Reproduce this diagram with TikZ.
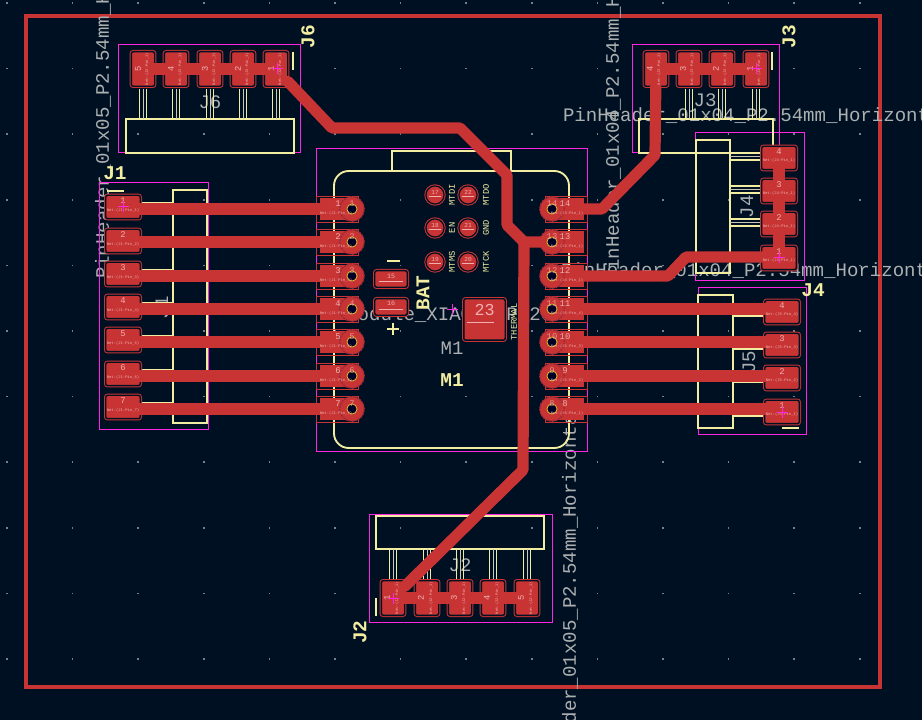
\documentclass[tikz,border=0pt]{standalone}
\usepackage{fontspec}
\setmainfont{Liberation Mono}
\definecolor{boardBg}{RGB}{0,16,35}
\definecolor{copper}{RGB}{200,52,52}
\definecolor{padRing}{RGB}{150,42,56}
\definecolor{silk}{RGB}{242,237,161}
\definecolor{fabGray}{RGB}{172,176,176}
\definecolor{fabThin}{RGB}{200,200,185}
\definecolor{court}{RGB}{255,38,226}
\definecolor{padText}{RGB}{238,176,176}
\definecolor{gridDot}{RGB}{120,128,138}
\definecolor{holeRing}{RGB}{226,190,50}

\begin{document}
\begin{tikzpicture}[%
    x=0.75pt,y=-0.75pt,
    every node/.style={inner sep=0pt,outer sep=0pt},
    bigFab/.style={font=\fontsize{14.3}{15}\selectfont,text=fabGray},
    bigSilk/.style={font=\fontsize{14.6}{15}\selectfont\bfseries,text=silk},
    tinySilk/.style={font=\fontsize{6.6}{7}\selectfont,text=silk},
    padNum/.style={font=\fontsize{6.6}{7}\selectfont,text=padText},
    netName/.style={font=\fontsize{2.9}{3}\selectfont,text=padText},
    smdPad/.style={shape=rectangle,fill=copper,draw=copper,line width=0.75pt,
        double=boardBg,double distance=1.1pt,rounded corners=1.5pt},
    padV/.style={smdPad,minimum width=17.6pt,minimum height=25.9pt},
    padH/.style={smdPad,minimum width=25.9pt,minimum height=17.6pt},
    padSmall/.style={smdPad,minimum width=24.4pt,minimum height=12.4pt},
    padTherm/.style={smdPad,minimum width=31.1pt,minimum height=31.1pt},
    padDot/.style={shape=circle,fill=copper,draw=copper,line width=0.75pt,
        double=boardBg,double distance=0.9pt,minimum size=13.6pt},
    modRect/.style={shape=rectangle,fill=copper,minimum width=24.4pt,minimum height=16.5pt},
    modEdge/.style={draw=copper,line width=0.6pt},
    modRound/.style={shape=circle,fill=copper,draw=padRing,line width=0.9pt,
        dash pattern=on 1.6pt off 0.8pt,minimum size=18.5pt},
    holeDot/.style={shape=circle,fill=black!85!blue,draw=holeRing,line width=0.6pt,minimum size=7.6pt},
    silkLine/.style={draw=silk,line width=1.4pt},
    pinLine/.style={draw=silk,line width=1pt},
    fabLine/.style={draw=fabThin,line width=0.3pt},
    courtLine/.style={draw=court,line width=0.75pt},
    traceLine/.style={draw=copper,line width=8.4pt,line join=round,line cap=round},
    padDash/.style={draw=padText,line width=0.3pt},
    crossLine/.style={draw=court,line width=0.75pt},
]
% fix page and background
\useasboundingbox (0,0) rectangle (922,720);
\clip (0,0) rectangle (922,720);
\fill[boardBg] (0,0) rectangle (922,720);

% draw grid dots
\foreach \i in {0,...,13}{
    \foreach \j in {0,...,10}{
        \fill[gridDot] (7+65.6*\i-0.8,3+65.6*\j-0.8) rectangle +(1.6,1.6);
    }
}

% draw board outline
\draw[copper,line width=2.3pt] (26,16) rectangle (880,687);

% place fab texts
\node[bigFab,rotate=90,anchor=west] (valJ6) at (103,279) {PinHeader\_01x05\_P2.54mm\_Horizontal};
\node[bigFab,rotate=90,anchor=west] (valJ3) at (613,282) {PinHeader\_01x04\_P2.54mm\_Horizontal};
\node[bigFab,rotate=90,anchor=east] (valJ2) at (570,403) {PinHeader\_01x05\_P2.54mm\_Horizontal};
\node[bigFab,anchor=west] (valJ3b) at (563,116) {PinHeader\_01x04\_P2.54mm\_Horizontal};
\node[bigFab,anchor=west] (valJ4) at (561,271) {PinHeader\_01x04\_P2.54mm\_Horizontal};
\node[bigFab] (valM1) at (455,315) {Module\_XIAO-ESP32C3};
\node[bigFab] (refJ6) at (210,102) {J6};
\node[bigFab] (refJ3) at (705,100) {J3};
\node[bigFab] (refJ2) at (460,565) {J2};
\node[bigFab,rotate=90] (refJ1) at (162,308) {J1};
\node[bigFab,rotate=90] (refJ4) at (747,207) {J4};
\node[bigFab,rotate=90] (refJ5) at (749,362) {J5};
\node[bigFab] (refM1) at (452,348) {M1};

% draw courtyards
\draw[courtLine] (118.5,45) rectangle (300.5,153);
\draw[courtLine] (632,45) rectangle (779,153);
\draw[courtLine] (99.5,183) rectangle (208,430);
\draw[courtLine] (695,133) rectangle (804,281);
\draw[courtLine] (698,288) rectangle (806,435);
\draw[courtLine] (369.5,514) rectangle (552,622);
\draw[courtLine] (316.5,148.5) rectangle (587,452);

% draw connector bodies
\draw[silkLine] (126,119) rectangle (294,153);
\draw[silkLine] (639,119) rectangle (773,153);
\draw[silkLine] (173,190) rectangle (207,423);
\draw[silkLine] (696,140) rectangle (730,273);
\draw[silkLine] (698,295) rectangle (733,428);
\draw[silkLine] (376,516) rectangle (544,549);

% draw connector pins
\foreach \x in {143,176,210,243,276,656,689,722,756}{
    \draw[pinLine] (\x-3.5,89) -- (\x-3.5,119);
    \draw[pinLine] (\x+3.5,89) -- (\x+3.5,119);
    \draw[fabLine] (\x,89) -- (\x,119);
}
\foreach \x in {393,427,460,493,527}{
    \draw[pinLine] (\x-3.5,549) -- (\x-3.5,579);
    \draw[pinLine] (\x+3.5,549) -- (\x+3.5,579);
    \draw[fabLine] (\x,549) -- (\x,579);
}
\foreach \y in {207,241,274,307,340,374,407}{
    \draw[pinLine] (142,\y-4) -- (173,\y-4);
    \draw[pinLine] (142,\y+3) -- (173,\y+3);
}
\foreach \y in {158,191,224,258}{
    \draw[pinLine] (730,\y-5) -- (760,\y-5);
    \draw[pinLine] (730,\y+2) -- (760,\y+2);
    \draw[fabLine] (730,\y-1.5) -- (760,\y-1.5);
}
\foreach \y in {312,345,378,412}{
    \draw[pinLine] (733,\y+4) -- (763,\y+4);
}

% draw pin one marks
\draw[silkLine] (293,52) -- (293,70);
\draw[silkLine] (772,52) -- (772,70);
\draw[silkLine] (107,191) -- (124,191);
\draw[silkLine] (782,428) -- (799,428);
\draw[silkLine] (376,598) -- (376,616);

% draw module outline
\draw[silkLine,rounded corners=11pt] (334,171) rectangle (569,448);
\draw[silkLine] (392,171) -- (392,151) -- (511,151) -- (511,171);
\draw[silkLine] (387,261) -- (400,261);
\draw[silkLine] (387,329) -- (399,329);
\draw[silkLine] (393,323) -- (393,335);

% place silk texts
\node[bigSilk,rotate=90] (silkJ6) at (308,37) {J6};
\node[bigSilk,rotate=90] (silkJ3) at (789,37) {J3};
\node[bigSilk] (silkJ1) at (115,173) {J1};
\node[bigSilk] (silkJ4) at (813,290) {J4};
\node[bigSilk,rotate=90] (silkJ2) at (360,632) {J2};
\node[bigSilk] (silkM1) at (452,380) {M1};
\node[bigSilk,rotate=90] (silkBat) at (423,293) {BAT};
\node[tinySilk,rotate=90] (silkTherm) at (514,322) {THERMAL};
\node[tinySilk,rotate=90] (silkMtdi) at (452,195) {MTDI};
\node[tinySilk,rotate=90] (silkMtdo) at (486,195) {MTDO};
\node[tinySilk,rotate=90] (silkEn) at (452,228) {EN};
\node[tinySilk,rotate=90] (silkGnd) at (486,228) {GND};
\node[tinySilk,rotate=90] (silkMtms) at (452,262) {MTMS};
\node[tinySilk,rotate=90] (silkMtck) at (486,262) {MTCK};

% place connector pads
\foreach \n/\x in {1/276,2/243,3/210,4/176,5/143}{
    \node[padV] (j6p\n) at (\x,69) {};
}
\foreach \n/\x in {1/756,2/722,3/689,4/656}{
    \node[padV] (j3p\n) at (\x,69) {};
}
\foreach \n/\x in {1/393,2/427,3/460,4/493,5/527}{
    \node[padV] (j2p\n) at (\x,598) {};
}
\foreach \n/\y in {1/207,2/241,3/274,4/307,5/340,6/374,7/407}{
    \node[padH] (j1p\n) at (123,\y) {};
}
\foreach \n/\y in {1/258,2/224,3/191,4/158}{
    \node[padH] (j4p\n) at (779,\y) {};
}
\foreach \n/\y in {1/412,2/378,3/345,4/312}{
    \node[padH] (j5p\n) at (782,\y) {};
}

% place module pads
\foreach \n/\y in {1/209,2/242,3/276,4/309,5/342,6/376,7/409}{
    \draw[modEdge] (316,\y-13) rectangle (358,\y+13);
    \node[modRect] (m1p\n) at (336,\y) {};
    \node[modRound] (m1r\n) at (352,\y) {};
}
\foreach \n/\y in {14/209,13/242,12/276,11/309,10/342,9/376,8/409}{
    \draw[modEdge] (545,\y-13) rectangle (587,\y+13);
    \node[modRect] (m1p\n) at (568,\y) {};
    \node[modRound] (m1r\n) at (552,\y) {};
}
\node[padSmall] (m1p15) at (391,279) {};
\node[padSmall] (m1p16) at (391,307) {};
\node[padTherm] (m1p23) at (484.5,319.5) {};
\foreach \n/\x/\y in {17/435/195,22/468/195,18/435/228,21/468/228,19/435/262,20/468/262}{
    \node[padDot] (m1p\n) at (\x,\y) {};
}

% bends of the long tracks
\coordinate (bendJ6a) at (332,128);
\coordinate (bendJ6b) at (460,128);
\coordinate (bendJ6c) at (507,175);
\coordinate (bendJ6d) at (507,225);
\coordinate (meetM13) at (524,242);
\coordinate (bendJ2) at (523,470);
\coordinate (bendJ3a) at (655,155);
\coordinate (bendJ3b) at (602,209);
\coordinate (bendJ4a) at (686,257);
\coordinate (bendJ4b) at (668,276);

% draw tracks
\foreach \n in {1,...,7}{
    \draw[traceLine] (j1p\n |- m1r\n) -- (m1p\n);
}
\draw[traceLine] (j5p4 |- m1r11) -- (m1p11);
\draw[traceLine] (j5p3 |- m1r10) -- (m1p10);
\draw[traceLine] (j5p2 |- m1r9) -- (m1p9);
\draw[traceLine] (j5p1 |- m1r8) -- (m1p8);
\draw[traceLine] (j6p5) -- (j6p1);
\draw[traceLine] (j3p4) -- (j3p1);
\draw[traceLine] (j4p4) -- (j4p1);
\draw[traceLine] (j2p1) -- (j2p5);
\draw[traceLine] (j6p1) -- (bendJ6a) -- (bendJ6b) -- (bendJ6c) -- (bendJ6d) -- (meetM13) -- (m1p13);
\draw[traceLine] (meetM13) -- (bendJ2) -- (j2p1);
\draw[traceLine] (j3p4) -- (bendJ3a) -- (bendJ3b) -- (m1p14);
\draw[traceLine] (j4p1.center |- bendJ4a) -- (bendJ4a) -- (bendJ4b) -- (m1p12);

% place module holes
\foreach \n in {1,...,14}{
    \node[holeDot] (m1h\n) at (m1r\n) {};
}

% place pad labels of the top and bottom rows
\foreach \n/\x in {1/276,2/243,3/210,4/176,5/143}{
    \node[padNum,rotate=90] (j6t\n) at (\x-5,69) {\n};
    \node[netName,rotate=90] (j6s\n) at (\x+4,69) {Net-(J2-Pin\_1)};
}
\foreach \n/\x in {1/756,2/722,3/689,4/656}{
    \node[padNum,rotate=90] (j3t\n) at (\x-6,69) {\n};
    \node[netName,rotate=90] (j3s\n) at (\x+3,69) {Net-(J3-Pin\_1)};
}
\foreach \n/\x in {1/393,2/427,3/460,4/493,5/527}{
    \node[padNum,rotate=90] (j2t\n) at (\x-6,598) {\n};
    \node[netName,rotate=90] (j2s\n) at (\x+4,598) {Net-(J2-Pin\_1)};
}

% place pad labels of the side columns
\foreach \n/\y in {1/207,2/241,3/274,4/307,5/340,6/374,7/407}{
    \node[padNum] (j1t\n) at (123,\y-6) {\n};
    \node[netName] (j1s\n) at (123,\y+4) {Net-(J1-Pin\_\n)};
}
\foreach \n/\y in {1/258,2/224,3/191,4/158}{
    \node[padNum] (j4t\n) at (779,\y-6) {\n};
    \node[netName] (j4s\n) at (779,\y+3) {Net-(J4-Pin\_1)};
}
\foreach \n/\y in {1/412,2/378,3/345,4/312}{
    \node[padNum] (j5t\n) at (782,\y-6) {\n};
    \node[netName] (j5s\n) at (782,\y+3) {Net-(J5-Pin\_\n)};
}

% place module pad labels
\foreach \n/\y in {1/209,2/242,3/276,4/309,5/342,6/376,7/409}{
    \node[padNum] (m1t\n) at (338,\y-5) {\n};
    \node[padNum,opacity=.75] (m1u\n) at (352,\y-5) {\n};
    \node[netName] (m1s\n) at (336,\y+5) {Net-(J1-Pin\_\n)};
}
\foreach \n/\y/\net in {14/209/J3-Pin\_1,13/242/J2-Pin\_1,12/276/J4-Pin\_1,11/309/J5-Pin\_4,10/342/J5-Pin\_3,9/376/J5-Pin\_2,8/409/J5-Pin\_1}{
    \node[padNum] (m1t\n) at (565,\y-5) {\n};
    \node[padNum,opacity=.75] (m1u\n) at (552,\y-5) {\n};
    \node[netName] (m1s\n) at (567,\y+5) {Net-(\net)};
}
\node[padNum,font=\fontsize{5}{5}\selectfont] (m1t15) at (391,276) {15};
\node[padNum,font=\fontsize{5}{5}\selectfont] (m1t16) at (391,303) {16};
\node[padNum,font=\fontsize{12.5}{13}\selectfont] (m1t23) at (484.5,310) {23};
\draw[padDash] (379,281) -- (403,281);
\draw[padDash] (379,309) -- (403,309);
\draw[padDash] (467,322) -- (494,322);
\foreach \n/\x/\y in {17/435/195,22/468/195,18/435/228,21/468/228,19/435/262,20/468/262}{
    \node[padNum,font=\fontsize{4.6}{5}\selectfont] (m1t\n) at (\x,\y-3) {\n};
    \draw[padDash] (\x-6,\y+1) -- (\x+6,\y+1);
}

% draw anchor crosses
\foreach \a/\x/\y in {j6/277/69,j1/123/207,j3/756/69,j4/779/258,j5/782/413,j2/393/598,m1/452/310}{
    \draw[crossLine] (\x-5.5,\y) -- (\x+5.5,\y);
    \draw[crossLine] (\x,\y-5.5) -- (\x,\y+5.5);
}

\end{tikzpicture}
\end{document}
